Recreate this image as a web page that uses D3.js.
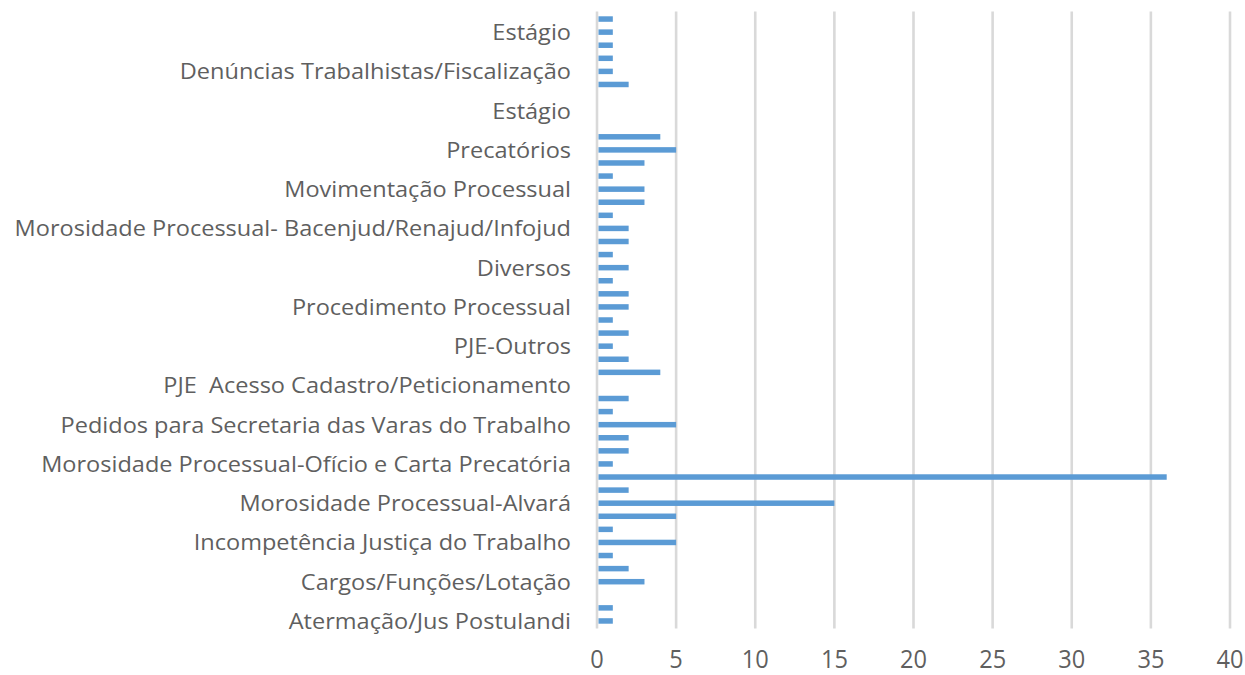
<!DOCTYPE html>
<html>
<head>
<meta charset="utf-8">
<script src="https://cdn.jsdelivr.net/npm/d3@7"></script>
<style>
  html, body { margin: 0; padding: 0; background: #ffffff; }
  svg { display: block; }
  text { white-space: pre; }
</style>
</head>
<body>
<svg id="chart" width="1245" height="675"></svg>
<script>
// Values of the 47 categories, top to bottom as drawn
const values = [1, 1, 1, 1, 1, 2, 0, 0, 0, 4, 5, 3, 1, 3, 3, 1, 2, 2, 1, 2, 1, 2, 2, 1,
                2, 1, 2, 4, 0, 2, 1, 5, 2, 2, 1, 36, 2, 15, 5, 1, 5, 1, 2, 3, 0, 1, 1];
// Only every third category label is shown (top to bottom), starting at the 2nd bar
const tickLabels = [
  "Estágio",
  "Denúncias Trabalhistas/Fiscalização",
  "Estágio",
  "Precatórios",
  "Movimentação Processual",
  "Morosidade Processual- Bacenjud/Renajud/Infojud",
  "Diversos",
  "Procedimento Processual",
  "PJE-Outros",
  "PJE  Acesso Cadastro/Peticionamento",
  "Pedidos para Secretaria das Varas do Trabalho",
  "Morosidade Processual-Ofício e Carta Precatória",
  "Morosidade Processual-Alvará",
  "Incompetência Justiça do Trabalho",
  "Cargos/Funções/Lotação",
  "Atermação/Jus Postulandi"
];
const xTicks = [0, 5, 10, 15, 20, 25, 30, 35, 40];

const svg = d3.select("#chart");
const plot = { left: 597, right: 1230, top: 12.5, bottom: 627.5 };
const FONT = "'Open Sans', 'Liberation Sans', sans-serif";
const TEXT_COLOR = "#5f5f5f";

const x = d3.scaleLinear().domain([0, 40]).range([plot.left, plot.right]);
const y = d3.scaleBand().domain(d3.range(values.length))
  .range([plot.top, plot.bottom]).paddingInner(0.58).paddingOuter(0.29);

// gridlines
svg.append("g").selectAll("line").data(xTicks).join("line")
  .attr("x1", d => x(d)).attr("x2", d => x(d))
  .attr("y1", plot.top - 1).attr("y2", plot.bottom + 1)
  .attr("stroke", "#d9d9d9").attr("stroke-width", 2.6);

// bars
svg.append("g").selectAll("rect").data(values).join("rect")
  .attr("x", x(0) + 1.5)
  .attr("y", (d, i) => y(i))
  .attr("width", d => d > 0 ? x(d) - x(0) - 1.5 : 0)
  .attr("height", y.bandwidth())
  .attr("fill", "#5b9bd5");

// category labels
const labelIdx = tickLabels.map((t, k) => ({ t, i: k * 3 + 1 }));
const lg = svg.append("g");
const labels = lg.selectAll("text").data(labelIdx).join("text")
  .attr("font-family", FONT).attr("font-size", 22)
  .attr("fill", TEXT_COLOR).attr("text-anchor", "end")
  .text(d => d.t);
// horizontal condensation to match reference width
const refNode = labels.filter(d => d.t.startsWith("Morosidade Processual- B")).node();
const sx = 557 / refNode.getComputedTextLength();
labels.attr("transform", d => `translate(571, ${y(d.i) + y.bandwidth() / 2 + 8}) scale(${sx},1)`);

// x tick labels
const tg = svg.append("g");
const ticks = tg.selectAll("text").data(xTicks).join("text")
  .attr("font-family", FONT).attr("font-size", 25)
  .attr("fill", TEXT_COLOR).attr("text-anchor", "middle")
  .text(d => d);
const refTick = ticks.filter(d => d === 40).node();
const tsx = 27 / refTick.getComputedTextLength();
ticks.attr("transform", d => `translate(${x(d)}, 668) scale(${tsx},1)`);
</script>
</body>
</html>
